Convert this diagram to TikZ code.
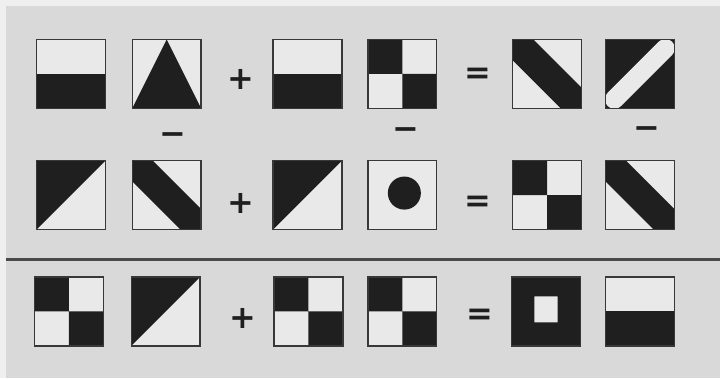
\documentclass[tikz,border=0pt]{standalone}
\usepackage{fontspec}
\usetikzlibrary{positioning}
\newfontfamily\signfont{DejaVu Sans}
\definecolor{myMargin}{HTML}{EFEFEF}
\definecolor{myGround}{HTML}{D9D9D9}
\definecolor{myPaper}{HTML}{E9E9E9}
\definecolor{myInk}{HTML}{1F1F1F}
\definecolor{myEdge}{HTML}{383838}
\definecolor{myRule}{HTML}{4A4A4A}

\begin{document}
\begin{tikzpicture}[
x=1pt, y=1pt,
tile/.style={draw=myEdge, line width=1.4pt, fill=myPaper, minimum size=69pt, inner sep=0pt, outer sep=0pt},
unit/.style={x=69pt, y=69pt},
halftile/.style={tile, path picture={\fill[myInk, unit] (-0.5,-0.5) rectangle (0.5,0);}},
peaktile/.style={tile, path picture={\fill[myInk, unit] (-0.5,-0.5) -- (0,0.5) -- (0.5,-0.5) -- cycle;}},
checktile/.style={tile, path picture={\fill[myInk, unit] (-0.5,0) rectangle (0,0.5) (0,-0.5) rectangle (0.5,0);}},
bandtile/.style={tile, path picture={\fill[myInk, unit] (-0.5,0.5) -- (-0.2,0.5) -- (0.5,-0.2) -- (0.5,-0.5) -- (0.2,-0.5) -- (-0.5,0.2) -- cycle;}},
slashtile/.style={tile, path picture={\fill[myInk, unit] (-0.5,-0.5) rectangle (0.5,0.5);
  \draw[myPaper, unit, line width=19pt, line cap=round] (-0.37,-0.37) -- (0.37,0.37);}},
cornertile/.style={tile, path picture={\fill[myInk, unit] (-0.5,-0.5) -- (-0.5,0.5) -- (0.5,0.5) -- cycle;}},
dottile/.style={tile, path picture={\fill[myInk, unit] (0.03,0.03) circle[radius=0.24];}},
holetile/.style={tile, path picture={\fill[myInk, unit, even odd rule] (-0.5,-0.5) rectangle (0.5,0.5) (-0.17,-0.16) rectangle (0.17,0.22);}},
sign/.style={font=\signfont\bfseries\fontsize{32}{34}\selectfont, text=myInk, inner sep=0pt}
]

% page and ground
\fill[myMargin] (0,0) rectangle (721,379);
\fill[myGround] (6,0) rectangle (721,373);

% row 1
\node[halftile] (r1c1) at (71,305) {};
\node[peaktile] (r1c2) at (167,305) {};
\node[sign] (r1plus) at (241,299) {+};
\node[halftile] (r1c3) at (308,305) {};
\node[checktile] (r1c4) at (403,305) {};
\node[sign] (r1eq) at (479,303) {=};
\node[bandtile] (r1c5) at (548,305) {};
\node[slashtile] (r1c6) at (641,305) {};
\node[sign] (r1m2) at (173,240) {−};
\node[sign] (r1m4) at (407,245) {−};
\node[sign] (r1m6) at (648,246) {−};

% row 2
\node[cornertile] (r2c1) at (71,183.5) {};
\node[bandtile] (r2c2) at (167,183.5) {};
\node[sign] (r2plus) at (241,175) {+};
\node[cornertile] (r2c3) at (308,183.5) {};
\node[dottile] (r2c4) at (403,183.5) {};
\node[sign] (r2eq) at (479,175) {=};
\node[checktile] (r2c5) at (548,183.5) {};
\node[bandtile] (r2c6) at (641,183.5) {};

% dividing rule
\coordinate (ruleL) at (6,119);
\coordinate (ruleR) at (721,119);
\draw[myRule, line width=2.6pt] (ruleL) -- (ruleR);

% row 3
\node[checktile] (r3c1) at (69,67) {};
\node[cornertile] (r3c2) at (166,67) {};
\node[sign] (r3plus) at (243,60) {+};
\node[checktile] (r3c3) at (309,67) {};
\node[checktile] (r3c4) at (403,67) {};
\node[sign] (r3eq) at (481,62) {=};
\node[holetile] (r3c5) at (547,67) {};
\node[halftile] (r3c6) at (641,67) {};
\end{tikzpicture}
\end{document}
